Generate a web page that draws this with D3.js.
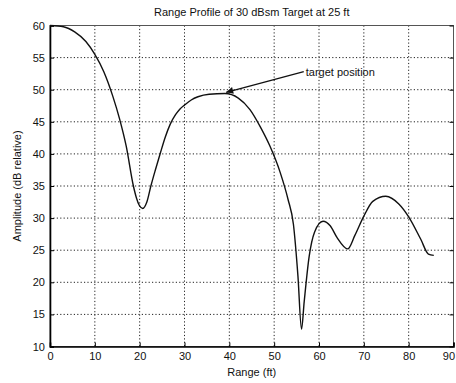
<!DOCTYPE html>
<html>
<head>
<meta charset="utf-8">
<script src="https://cdn.jsdelivr.net/npm/d3@7/dist/d3.min.js"></script>
<style>
body{margin:0;background:#fff;}
text{font-family:"Liberation Sans",Arial,sans-serif;fill:#111;}
</style>
</head>
<body>
<svg id="chart" width="456" height="383"></svg>
<script>
// range profile
var rangeFt = [0, 3, 5.5, 8, 10, 12, 14, 15.5, 17, 18.6, 19.3, 19.9, 20.7, 21.6, 22.5, 23.5, 24.6, 25.7, 26.8, 28, 29, 30, 31.5, 33, 35.5, 39, 42, 44.6, 47, 49, 51.3, 53.1, 54.3, 55.3, 56.1, 56.7, 57.8, 59, 60.9, 62.5, 64, 66.4, 68, 70, 72, 74.9, 77.8, 80, 82.7, 84.4, 85.6];
var ampDb = [60, 59.8, 59, 57.5, 55.5, 52.8, 49, 45.5, 41.2, 35, 33.1, 32, 31.5, 32.5, 35, 37.5, 40.1, 42.6, 44.6, 46.1, 47, 47.6, 48.4, 48.9, 49.3, 49.4, 48.7, 46.9, 44.1, 41.3, 37.2, 32.9, 29, 21, 12.7, 17, 24, 27.8, 29.5, 28.8, 27, 25.2, 27.3, 30.3, 32.6, 33.4, 32.2, 30.2, 26.7, 24.4, 24.2];
var xTicks = [0, 10, 20, 30, 40, 50, 60, 70, 80, 90];
var yTicks = [10, 15, 20, 25, 30, 35, 40, 45, 50, 55, 60];
var arrowTip = [39.3, 49.6];
var arrowTail = [56.6, 52.8];
var arrowText = "target position";

var svg = d3.select("#chart");
var m = {left:50, right:453.5, top:25.5, bottom:346.5};
var x = d3.scaleLinear().domain([0,90]).range([m.left, m.right]);
var y = d3.scaleLinear().domain([10,60]).range([m.bottom, m.top]);

// grid
svg.append("g").selectAll("line").data(xTicks.slice(1,-1)).enter().append("line")
	.attr("x1",function(d){return x(d);}).attr("x2",function(d){return x(d);})
	.attr("y1",m.top).attr("y2",m.bottom)
	.attr("stroke","#222").attr("stroke-width",1).attr("stroke-dasharray","1.2,2.2");
svg.append("g").selectAll("line").data(yTicks.slice(1)).enter().append("line")
	.attr("y1",function(d){return y(d);}).attr("y2",function(d){return y(d);})
	.attr("x1",m.left).attr("x2",m.right)
	.attr("stroke","#222").attr("stroke-width",1).attr("stroke-dasharray","1.2,2.2");

// box
svg.append("rect").attr("x",m.left).attr("y",m.top)
	.attr("width",m.right-m.left).attr("height",m.bottom-m.top)
	.attr("fill","none").attr("stroke","#555").attr("stroke-width",1);

// axes, inward ticks
var xAxis = svg.append("g").attr("transform","translate(0,"+m.bottom+")")
	.call(d3.axisBottom(x).tickValues(xTicks).tickSize(-4).tickPadding(6));
var yAxis = svg.append("g").attr("transform","translate("+m.left+",0)")
	.call(d3.axisLeft(y).tickValues(yTicks).tickSize(-4).tickPadding(5));
svg.append("g").attr("transform","translate("+m.right+",0)")
	.call(d3.axisRight(y).tickValues(yTicks).tickSize(-4).tickFormat(""))
	.select(".domain").remove();
[xAxis, yAxis].forEach(function(a){
	a.select(".domain").attr("stroke","#000").attr("stroke-width",1.6);
	a.selectAll("text").attr("font-size",11).attr("fill","#111")
		.style("font-family","'Liberation Sans',Arial,sans-serif");
});
// last x label sits at the window edge, keep it inside
xAxis.selectAll(".tick text").filter(function(d){return d===90;})
	.attr("text-anchor","end").attr("dx","0.1em");

// curve
var line = d3.line()
	.x(function(d){return x(d[0]);})
	.y(function(d){return y(d[1]);})
	.curve(d3.curveMonotoneX);
svg.append("path").datum(d3.zip(rangeFt, ampDb))
	.attr("d",line).attr("fill","none").attr("stroke","#111").attr("stroke-width",1.4);

// annotation
svg.append("defs").append("marker").attr("id","ah")
	.attr("viewBox","0 0 10 10").attr("refX",10).attr("refY",5)
	.attr("markerWidth",9).attr("markerHeight",7).attr("orient","auto")
	.attr("markerUnits","userSpaceOnUse")
	.append("path").attr("d","M0,0L10,5L0,10Z").attr("fill","#111");
svg.append("line")
	.attr("x1",x(arrowTail[0])).attr("y1",y(arrowTail[1]))
	.attr("x2",x(arrowTip[0])).attr("y2",y(arrowTip[1]))
	.attr("stroke","#111").attr("stroke-width",1.3).attr("marker-end","url(#ah)");
svg.append("text").attr("x",x(arrowTail[0])+2).attr("y",y(arrowTail[1])+4)
	.attr("font-size",11).text(arrowText);

// titles
svg.append("text").attr("x",(m.left+m.right)/2).attr("y",16)
	.attr("text-anchor","middle").attr("font-size",11)
	.text("Range Profile of 30 dBsm Target at 25 ft");
svg.append("text").attr("x",(m.left+m.right)/2).attr("y",376)
	.attr("text-anchor","middle").attr("font-size",11).text("Range (ft)");
svg.append("text").attr("transform","translate(21,"+((m.top+m.bottom)/2)+") rotate(-90)")
	.attr("text-anchor","middle").attr("font-size",11).text("Amplitude (dB relative)");
</script>
</body>
</html>
